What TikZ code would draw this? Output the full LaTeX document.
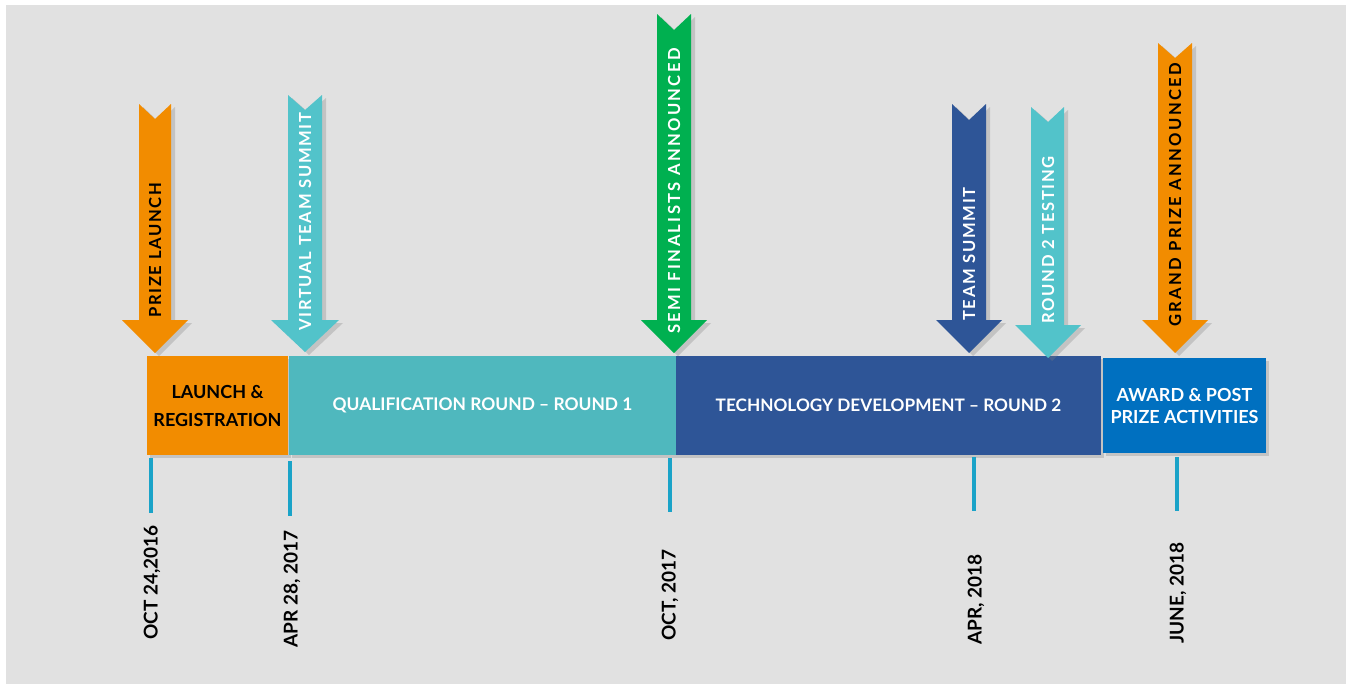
\documentclass[tikz,border=0pt]{standalone}
\usepackage{fontspec}
\setmainfont{Lato}
\newfontfamily\spacedfont[LetterSpace=10]{Lato}
\newfontfamily\widespacedfont[LetterSpace=14]{Lato}
\usetikzlibrary{shadows,positioning}
\definecolor{bggray}{HTML}{E1E1E1}
\definecolor{prizeorange}{HTML}{F28C00}
\definecolor{qualteal}{HTML}{4FB8BE}
\definecolor{arrowteal}{HTML}{52C3CA}
\definecolor{semigreen}{HTML}{00B050}
\definecolor{technavy}{HTML}{2E5597}
\definecolor{awardblue}{HTML}{0070C0}
\definecolor{tickblue}{HTML}{1AA3C8}

\begin{document}
\begin{tikzpicture}[x=0.5pt,y=-0.5pt,line join=miter,
  phase/.style={inner sep=0pt,minimum height=49.5pt,align=center,
    font=\bfseries\fontsize{9}{14}\selectfont,
    drop shadow={shadow xshift=1.5pt,shadow yshift=-1.5pt,opacity=0.3}},
  flag/.style={drop shadow={shadow xshift=2pt,shadow yshift=-1.5pt,opacity=0.3}},
  flagtext/.style={rotate=90,anchor=west,inner sep=0pt,
    font=\spacedfont\bfseries\fontsize{8.3}{8}\selectfont},
  wideflagtext/.style={flagtext,font=\widespacedfont\bfseries\fontsize{8.3}{8}\selectfont},
  tick/.style={draw=tickblue,line width=2pt},
  datelabel/.style={rotate=90,anchor=west,inner sep=0pt,
    font=\bfseries\fontsize{9.5}{10}\selectfont}]
\useasboundingbox (0,0) rectangle (1348,687);
\fill[white] (0,0) rectangle (1348,687);
\fill[bggray] (6,5) rectangle (1346,684);
% phases
\node[phase,fill=prizeorange,minimum width=70.5pt] (launch) at (217.5,405.5) {LAUNCH \&\\REGISTRATION};
\node[phase,fill=qualteal,text=white,minimum width=193.5pt,font=\bfseries\fontsize{8.7}{14}\selectfont] (qual) at (482.5,405.5) {\raisebox{-1.5pt}{QUALIFICATION ROUND -- ROUND 1}};
\node[phase,fill=technavy,text=white,minimum width=212.5pt,font=\bfseries\fontsize{8.6}{14}\selectfont] (tech) at (888.5,405.5) {\raisebox{-1pt}{TECHNOLOGY DEVELOPMENT -- ROUND 2}};
\node[phase,fill=awardblue,text=white,minimum width=81.5pt,minimum height=47.5pt,
  font=\bfseries\fontsize{9}{11}\selectfont] (award) at (1184.5,405.5) {AWARD \& POST\\PRIZE ACTIVITIES};
% milestone arrows
\fill[flag,fill=prizeorange] (139,104) -- (155,119) -- (171,104) -- (171,320) -- (188,320) -- (155,353) -- (122,320) -- (139,320) -- cycle;
\node[flagtext] (prize) at (155,318) {PRIZE LAUNCH};
\fill[flag,fill=arrowteal] (288,95) -- (305,110) -- (322,95) -- (322,320) -- (339,320) -- (305,352) -- (271,320) -- (288,320) -- cycle;
\node[flagtext,white] (virtual) at (305,331) {VIRTUAL TEAM SUMMIT};
\fill[flag,fill=semigreen] (657,14) -- (674,30) -- (691,14) -- (691,320) -- (707,320) -- (674,353) -- (641,320) -- (657,320) -- cycle;
\node[wideflagtext,white] (semi) at (674,334) {SEMI FINALISTS ANNOUNCED};
\fill[flag,fill=technavy] (952,104) -- (969,120) -- (986,104) -- (986,320) -- (1002,320) -- (969,353) -- (936,320) -- (952,320) -- cycle;
\node[flagtext,white] (summit) at (969,321) {TEAM SUMMIT};
\fill[flag,fill=arrowteal] (1031,107) -- (1048,122) -- (1064,107) -- (1064,325) -- (1081,325) -- (1048,358) -- (1015,325) -- (1031,325) -- cycle;
\node[flagtext,white] (testing) at (1048,324) {ROUND 2 TESTING};
\fill[flag,fill=prizeorange] (1158,43) -- (1175,58) -- (1192,43) -- (1192,320) -- (1208,320) -- (1175,353) -- (1142,320) -- (1158,320) -- cycle;
\node[wideflagtext] (grand) at (1175,327) {GRAND PRIZE ANNOUNCED};
% ticks and dates
\draw[tick] (151,458) -- (151,513);
\draw[tick] (290,461) -- (290,516);
\draw[tick] (670,458) -- (670,512);
\draw[tick] (974,457) -- (974,511);
\draw[tick] (1177,457) -- (1177,511);
\node[datelabel] (d1) at (152,640) {OCT 24,2016};
\node[datelabel] (d2) at (292,648) {APR 28, 2017};
\node[datelabel] (d3) at (670,641) {OCT, 2017};
\node[datelabel] (d4) at (976,645) {APR, 2018};
\node[datelabel] (d5) at (1178,644) {JUNE, 2018};
\end{tikzpicture}
\end{document}
